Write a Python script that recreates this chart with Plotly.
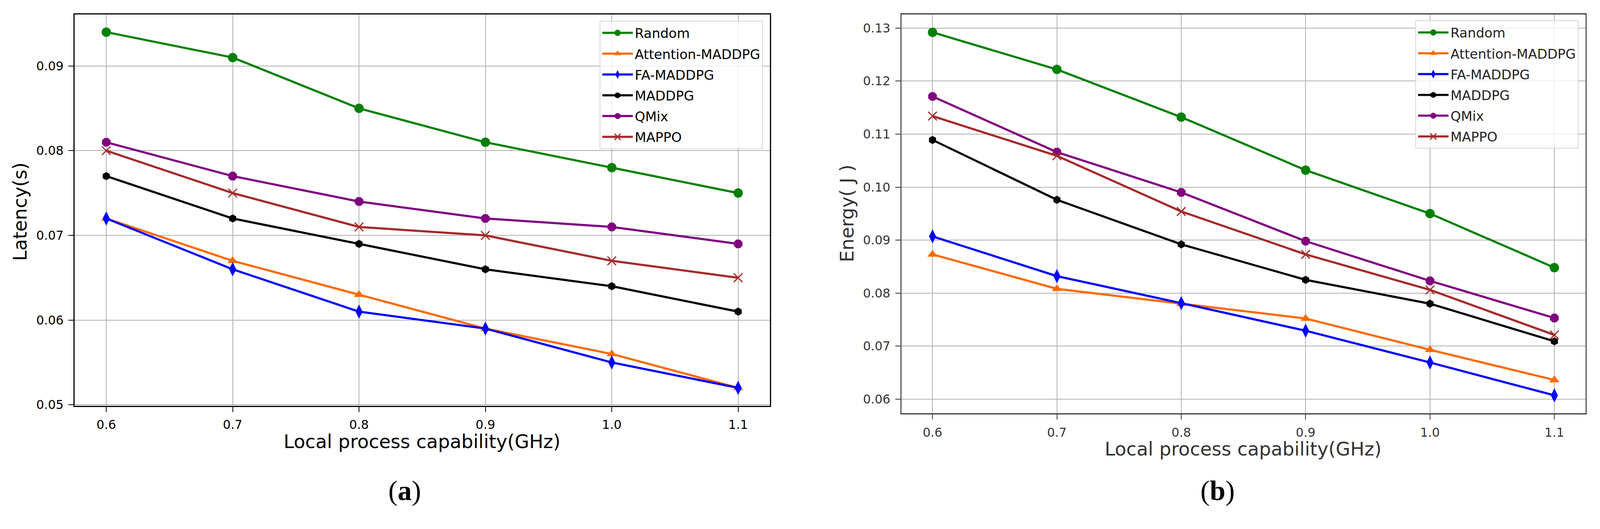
import plotly.graph_objects as go

# Local process capability (GHz)
capability = [0.6, 0.7, 0.8, 0.9, 1.0, 1.1]

# (a) latency in seconds
latency_random = [0.094, 0.091, 0.085, 0.081, 0.078, 0.075]
latency_attention = [0.072, 0.067, 0.063, 0.059, 0.056, 0.052]
latency_fa = [0.072, 0.066, 0.061, 0.059, 0.055, 0.052]
latency_maddpg = [0.077, 0.072, 0.069, 0.066, 0.064, 0.061]
latency_qmix = [0.081, 0.077, 0.074, 0.072, 0.071, 0.069]
latency_mappo = [0.080, 0.075, 0.071, 0.070, 0.067, 0.065]

# (b) energy in joule
energy_random = [0.1292, 0.1222, 0.1132, 0.1032, 0.0950, 0.0848]
energy_attention = [0.0873, 0.0808, 0.0780, 0.0752, 0.0693, 0.0636]
energy_fa = [0.0907, 0.0832, 0.0781, 0.0729, 0.0669, 0.0607]
energy_maddpg = [0.1089, 0.0976, 0.0892, 0.0825, 0.0780, 0.0709]
energy_qmix = [0.1171, 0.1066, 0.0990, 0.0898, 0.0823, 0.0753]
energy_mappo = [0.1134, 0.1059, 0.0954, 0.0873, 0.0806, 0.0721]

names = ["Random", "Attention-MADDPG", "FA-MADDPG", "MADDPG", "QMix", "MAPPO"]
colors = ["green", "#ff6a00", "blue", "black", "purple", "brown"]
symbols = ["circle", "triangle-up", "diamond-tall", "hexagon", "octagon", "x-thin"]
sizes = [24, 23, 26, 21, 24, 22]

latency = [latency_random, latency_attention, latency_fa, latency_maddpg, latency_qmix, latency_mappo]
energy = [energy_random, energy_attention, energy_fa, energy_maddpg, energy_qmix, energy_mappo]

# reference picture size; the plot div sits 8px inside the page (body margin)
W, H = 4203, 1353
M = 8
FONT = "DejaVu Sans"


def px(x):
    return (x - M) / (W - 2 * M)


def py(y):
    return 1 - (y - M) / (H - 2 * M)


fig = go.Figure()

for panel, (data, xa, ya, leg) in enumerate([(latency, "x", "y", "legend"),
                                             (energy, "x2", "y2", "legend2")]):
    for i, name in enumerate(names):
        marker = dict(symbol=symbols[i], size=sizes[i], color=colors[i],
                      line=dict(width=3 if symbols[i] == "x-thin" else 0, color=colors[i]))
        fig.add_trace(go.Scatter(
            x=capability, y=data[i], name=name, mode="lines+markers",
            line=dict(color=colors[i], width=5.5), marker=marker,
            xaxis=xa, yaxis=ya, legend=leg, legendgroup=f"{panel}-{i}",
        ))

axis_common = dict(showline=True, mirror=True, linewidth=3, ticks="outside",
                   ticklen=13, tickwidth=2, showgrid=True, gridcolor="#b0b0b0",
                   gridwidth=2, zeroline=False, ticklabelstandoff=6)

fig.update_layout(
    autosize=True,
    margin=dict(l=0, r=0, t=0, b=0),
    paper_bgcolor="white", plot_bgcolor="white",
    font=dict(family=FONT, size=31.5, color="black"),
    xaxis=dict(domain=[px(196), px(2022)], range=[0.575, 1.125], tickvals=capability,
               tickformat=".1f", linecolor="black", tickcolor="black",
               tickfont=dict(color="black"), anchor="y", **axis_common),
    yaxis=dict(domain=[py(1050), py(37)], range=[0.0499, 0.0961], dtick=0.01,
               tick0=0.05, tickformat=".2f", linecolor="black", tickcolor="black",
               tickfont=dict(color="black"), anchor="x", **axis_common),
    xaxis2=dict(domain=[px(2368), px(4165)], range=[0.575, 1.125], tickvals=capability,
                tickformat=".1f", linecolor="#3a3a3a", tickcolor="#3a3a3a",
                tickfont=dict(color="#333333"), anchor="y2", **axis_common),
    yaxis2=dict(domain=[py(1070), py(37)], range=[0.0573, 0.1326], dtick=0.01,
                tick0=0.06, tickformat=".2f", linecolor="#555555", tickcolor="#333333",
                tickfont=dict(color="#333333"), anchor="x2", **axis_common),
    legend=dict(x=px(2004), y=py(54), xanchor="right", yanchor="top",
                bgcolor="rgba(255,255,255,0.8)", bordercolor="#d6d6d6", borderwidth=2,
                font=dict(size=34, color="black"), tracegroupgap=6, itemwidth=78),
    legend2=dict(x=px(4147), y=py(53), xanchor="right", yanchor="top",
                 bgcolor="rgba(255,255,255,0.8)", bordercolor="#d6d6d6", borderwidth=2,
                 font=dict(size=34, color="#222222"), tracegroupgap=6, itemwidth=78),
)

annotations = [
    dict(text="Latency(s)", x=px(52), y=py(548), textangle=-90,
         font=dict(size=48, color="black")),
    dict(text="Local process capability(GHz)", x=px(1109), y=py(1143),
         font=dict(size=48, color="black")),
    dict(text="Energy( J )", x=px(2225), y=py(552), textangle=-90,
         font=dict(size=48, color="#333333")),
    dict(text="Local process capability(GHz)", x=px(3266), y=py(1162),
         font=dict(size=48, color="#333333")),
    dict(text="(<b>a</b>)", x=px(1063), y=py(1270), font=dict(family="Liberation Serif",
         size=72, color="black")),
    dict(text="(<b>b</b>)", x=px(3199), y=py(1270), font=dict(family="Liberation Serif",
         size=72, color="black")),
]
for a in annotations:
    fig.add_annotation(xref="paper", yref="paper", showarrow=False,
                       xanchor="center", yanchor="middle", **a)

# fill the browser window, leaving room for the page's default body margin
fig.write_html("out.html", config={"responsive": True},
               default_width="calc(100vw - 16px)", default_height="calc(100vh - 16px)")
